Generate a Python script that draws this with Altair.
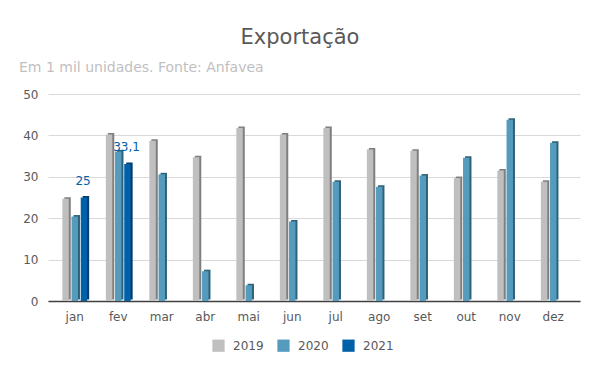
import altair as alt
import pandas as pd

months = ["jan", "fev", "mar", "abr", "mai", "jun", "jul", "ago", "set", "out", "nov", "dez"]
years = ["2019", "2020", "2021"]
v2019 = [24.7, 40.2, 38.7, 34.7, 41.8, 40.2, 41.8, 36.6, 36.3, 29.7, 31.5, 28.8]
v2020 = [20.4, 36.1, 30.6, 7.2, 3.8, 19.2, 28.8, 27.6, 30.3, 34.6, 43.8, 38.2]
v2021 = [25.0, 33.1]
labels2021 = ["25", "33,1"]

front_colors = ["#BFBFBF", "#559BBE", "#0060A8"]
side_colors = ["#7F7F7F", "#2F6178", "#003D6B"]

rows = []
for m, v in zip(months, v2019):
    rows.append({"mes": m, "ano": "2019", "valor": v})
for m, v in zip(months, v2020):
    rows.append({"mes": m, "ano": "2020", "valor": v})
for m, v, lab in zip(months, v2021, labels2021):
    rows.append({"mes": m, "ano": "2021", "valor": v, "rotulo": lab})
df = pd.DataFrame(rows)

FONT = "DejaVu Sans"
W, H = 532, 207
X_PI, X_PO = 0.43, 0.33
step = W / (len(months) - X_PI + 2 * X_PO)
bw = step * (1 - X_PI)

x_enc = alt.X("mes:N", sort=months,
              scale=alt.Scale(paddingInner=X_PI, paddingOuter=X_PO),
              axis=alt.Axis(title=None, labelAngle=0, labelColor="#595959", labelFontSize=12,
                            labelFont=FONT, ticks=False, domainColor="#404040", domainWidth=1.5,
                            labelPadding=10, grid=False))


def xoff(shift):
    return alt.XOffset("ano:N", sort=years,
                       scale=alt.Scale(domain=years, paddingInner=0.3, range=[shift, bw + shift]))


y_enc = alt.Y("valor:Q", scale=alt.Scale(domain=[0, 50]),
              axis=alt.Axis(title=None, values=[0, 10, 20, 30, 40, 50], labelColor="#595959",
                            labelFontSize=12, labelFont=FONT, ticks=False, domain=False,
                            gridColor="#D9D9D9", gridWidth=1, labelPadding=10))

base = alt.Chart(df)

shadow = base.mark_bar(yOffset=-1.5).encode(
    x=x_enc, xOffset=xoff(2), y=y_enc,
    color=alt.Color("ano:N", scale=alt.Scale(domain=years, range=side_colors), legend=None),
)

front = base.mark_bar().encode(
    x=x_enc, xOffset=xoff(0), y=y_enc,
    fill=alt.Fill("ano:N", scale=alt.Scale(domain=years, range=front_colors),
                  legend=alt.Legend(title=None, orient="none", direction="horizontal",
                                    legendX=164, legendY=245, symbolType="square", symbolSize=150,
                                    symbolStrokeWidth=0, labelColor="#595959", labelFontSize=12,
                                    labelFont=FONT, columnPadding=13, labelOffset=8)),
)

texts = base.transform_filter("datum.ano == '2021'").mark_text(
    color="#0060A8", fontSize=12, font=FONT, dy=-17, baseline="middle"
).encode(x=x_enc, xOffset=xoff(0), y=y_enc, text="rotulo:N")

title = alt.Chart(pd.DataFrame({"t": ["Exportação"]})).mark_text(
    font=FONT, fontSize=21, color="#595959", align="center", baseline="alphabetic"
).encode(text="t:N", x=alt.value(252), y=alt.value(-50))

subtitle = alt.Chart(pd.DataFrame({"t": ["Em 1 mil unidades. Fonte: Anfavea"]})).mark_text(
    font=FONT, fontSize=14, color="#BFBFBF", align="left", baseline="alphabetic"
).encode(text="t:N", x=alt.value(-29), y=alt.value(-22))

chart = alt.layer(shadow, front, texts, title, subtitle).resolve_scale(
    color="independent", fill="independent", xOffset="independent"
).properties(
    width=W, height=H,
    autosize=alt.AutoSizeParams(type="none"),
    padding={"left": 40, "top": 86, "right": 12, "bottom": 62},
).configure_view(stroke=None)

chart.save("out.html", embed_options={"renderer": "svg", "actions": False})
